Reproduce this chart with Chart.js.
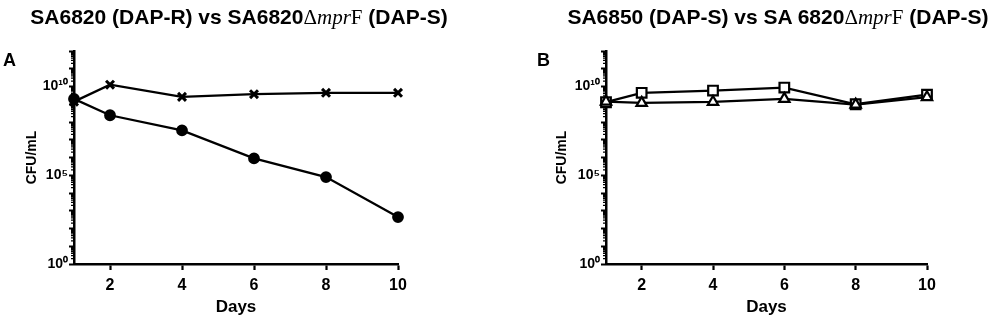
<!DOCTYPE html>
<html>
<head>
<meta charset="utf-8">
<script src="https://cdn.jsdelivr.net/npm/chart.js@4.4.0/dist/chart.umd.min.js"></script>
<style>
  body { margin: 0; background: #fff; }
  #wrap { position: relative; width: 1000px; height: 329px; overflow: hidden; }
  canvas { position: absolute; top: 0; }
  .title { position: absolute; top: 5px; font: bold 21px "Liberation Sans", Arial, sans-serif;
           white-space: nowrap; transform: translateX(-50%); color: #000; }
  .title .ser { font-family: "Liberation Serif", "Times New Roman", serif; font-weight: normal; }
  .letter { position: absolute; font: bold 18px "Liberation Sans", Arial, sans-serif; color: #000; }
</style>
</head>
<body>
<div id="wrap">
  <canvas id="chartA" width="500" height="329" style="left:0"></canvas>
  <canvas id="chartB" width="500" height="329" style="left:500px"></canvas>
  <div class="title" style="left:239px">SA6820 (DAP-R) vs SA6820<span class="ser">&Delta;<i>mpr</i>F</span> (DAP-S)</div>
  <div class="title" style="left:778px">SA6850 (DAP-S) vs SA 6820<span class="ser">&Delta;<i>mpr</i>F</span> (DAP-S)</div>
  <div class="letter" style="left:3px;top:50px">A</div>
  <div class="letter" style="left:537px;top:50px">B</div>
</div>
<script>
// days sampled
const days = [1, 2, 4, 6, 8, 10];
const dayTicks = [2, 4, 6, 8, 10];
// y axis: decades 10^0 .. 10^12, labelled at 0, 5, 10
const decades = [0, 1, 2, 3, 4, 5, 6, 7, 8, 9, 10, 11, 12];
const labelledExps = [0, 5, 10];
const minorSteps = [2, 3, 4, 5, 6, 7, 8, 9];

// panel A, CFU/mL
const sa6820 = [1.4e9, 1.26e10, 2.6e9, 3.7e9, 4.4e9, 4.4e9];
const sa6820MprF = [2.0e9, 2.4e8, 3.4e7, 8.9e5, 7.9e4, 4.4e2];
// panel B, CFU/mL
const sa6850 = [1.3e9, 4.4e9, 5.9e9, 8.7e9, 1.0e9, 3.5e9];
const sa6820MprFB = [1.4e9, 1.2e9, 1.35e9, 2.0e9, 9.5e8, 2.5e9];

const FONT = '"Liberation Sans", Arial, sans-serif';
const sup = {0:'\u2070',1:'\u00b9',2:'\u00b2',3:'\u00b3',4:'\u2074',5:'\u2075',6:'\u2076',7:'\u2077',8:'\u2078',9:'\u2079'};
function powLabel(v) {
  const e = Math.round(Math.log10(v));
  if (!labelledExps.includes(e)) return '';
  return '10' + String(e).split('').map(d => sup[d]).join('');
}

// short minor ticks along the log axis
const minorTicks = {
  id: 'minorTicks',
  beforeDatasetsDraw(chart) {
    const s = chart.scales.y;
    const ctx = chart.ctx;
    const x = chart.chartArea.left;
    ctx.save();
    ctx.strokeStyle = '#000';
    ctx.lineWidth = 1.2;
    ctx.beginPath();
    decades.slice(0, -1).forEach(e => {
      minorSteps.forEach(k => {
        const y = s.getPixelForValue(k * Math.pow(10, e));
        ctx.moveTo(x - 3, y);
        ctx.lineTo(x, y);
      });
    });
    ctx.stroke();
    ctx.restore();
  }
};

function line(data, style, radius, fill, bw) {
  return {
    data: data,
    borderColor: '#000',
    borderWidth: 2.3,
    pointStyle: style,
    pointRadius: radius,
    pointHoverRadius: radius,
    pointBorderColor: '#000',
    pointBackgroundColor: fill,
    pointBorderWidth: bw,
    tension: 0,
    clip: false
  };
}

function makeChart(id, datasets, padLeft, yWidth, padRight) {
  return new Chart(document.getElementById(id), {
    type: 'line',
    data: { labels: days, datasets: datasets.map(d => ({...d, data: d.data.map((v, i) => ({x: days[i], y: v}))})) },
    options: {
      responsive: false,
      animation: false,
      layout: { padding: { left: padLeft, right: padRight, top: 51, bottom: 11 } },
      plugins: { legend: { display: false }, tooltip: { enabled: false } },
      scales: {
        x: {
          type: 'linear', min: 1, max: 10,
          afterBuildTicks: s => { s.ticks = dayTicks.map(v => ({value: v})); },
          afterFit: s => { s.height = 54; },
          ticks: { color: '#000', font: { family: FONT, size: 16, weight: 'bold' }, padding: 6 },
          grid: { drawOnChartArea: false, tickLength: 6, tickWidth: 2.2, tickColor: '#000' },
          border: { color: '#000', width: 2.5 },
          title: { display: true, text: 'Days', color: '#000', padding: 0,
                   font: { family: FONT, size: 17, weight: 'bold' } }
        },
        y: {
          type: 'logarithmic', min: 1, max: 1e12,
          afterBuildTicks: s => { s.ticks = decades.map(e => ({value: Math.pow(10, e)})); },
          afterFit: s => { s.width = yWidth; },
          ticks: { color: '#000', autoSkip: false, padding: 1, callback: v => powLabel(v),
                   font: { family: FONT, size: 14, weight: 'bold' } },
          grid: { drawOnChartArea: false, tickLength: 5, tickWidth: 2, tickColor: '#000' },
          border: { color: '#000', width: 2.5 },
          title: { display: true, text: 'CFU/mL', color: '#000', padding: 0,
                   font: { family: FONT, size: 14, weight: 'bold' } }
        }
      }
    },
    plugins: [minorTicks]
  });
}

makeChart('chartA', [
  line(sa6820, 'crossRot', 5.6, '#000', 3),
  line(sa6820MprF, 'circle', 4.8, '#000', 2.2)
], 24, 50, 102);

makeChart('chartB', [
  line(sa6820MprFB, 'triangle', 6, '#fff', 2.2),
  line(sa6850, 'rect', 6.8, '#fff', 2.2)
], 54, 52, 73);
</script>
</body>
</html>
